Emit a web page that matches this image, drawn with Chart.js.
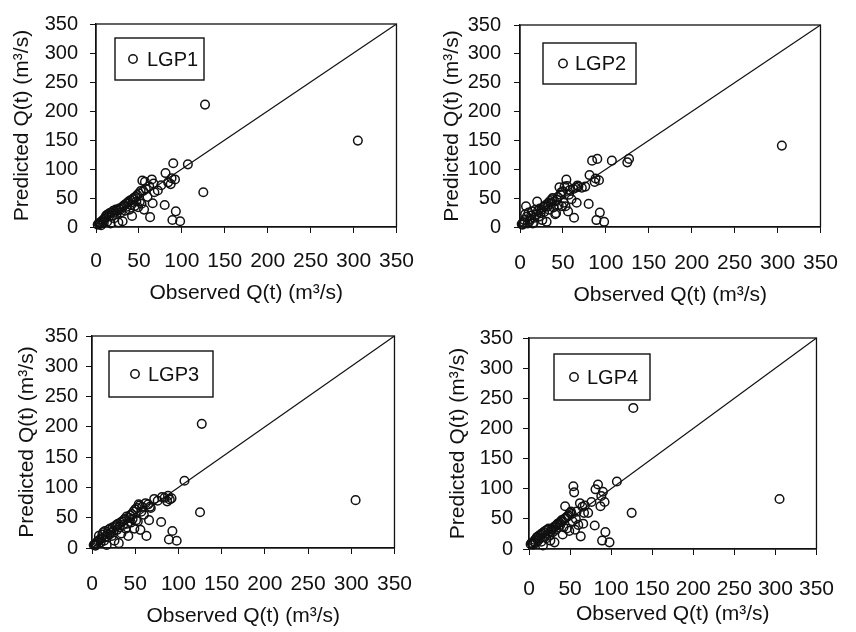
<!DOCTYPE html>
<html lang="en">
<head>
<meta charset="UTF-8">
<title>Observed vs predicted Q(t)</title>
<script src="https://cdn.jsdelivr.net/npm/chart.js"></script>
<style>
  body { margin: 0; background: #fff; }
  #wrap { position: relative; width: 856px; height: 632px; }
  canvas { position: absolute; }
</style>
</head>
<body>
<div id="wrap">
  <canvas id="c1" width="430" height="316" style="left:0;top:0"></canvas>
  <canvas id="c2" width="426" height="316" style="left:430px;top:0"></canvas>
  <canvas id="c3" width="430" height="316" style="left:0;top:316px"></canvas>
  <canvas id="c4" width="426" height="316" style="left:430px;top:316px"></canvas>
</div>

<script>
// observed discharge, shared by all four models
const observed = [2, 3, 4, 5, 6, 7, 8, 9, 10, 11, 12, 13, 14, 15, 16, 17, 18, 19, 20, 21,
  22, 23, 24, 25, 26, 27, 28, 29, 30, 31, 32, 33, 34, 35, 36, 37, 38, 39, 40, 41,
  42, 43, 44, 45, 46, 47, 48, 49, 50, 51, 52, 53, 54, 55, 56, 57, 58, 60, 62, 63,
  65, 66, 67, 68, 72, 76, 80, 81, 84, 87, 88, 89, 90, 92, 93, 98, 107, 125, 127, 305];

const predictedLGP1 = [4, 6, 5, 8, 3, 10, 12, 7, 14, 17, 20, 9, 22, 18, 24, 6, 25, 20, 28, 15,
  26, 30, 22, 28, 8, 32, 30, 25, 34, 10, 36, 38, 28, 40, 35, 42, 44, 30, 46, 38,
  19, 48, 50, 36, 52, 44, 55, 34, 58, 44, 62, 40, 80, 62, 30, 78, 66, 52, 70, 17,
  82, 41, 75, 60, 63, 72, 38, 93, 77, 74, 84, 12, 110, 82, 27, 10, 108, 60, 211, 149];

const predictedLGP2 = [5, 4, 8, 12, 22, 36, 18, 6, 25, 10, 14, 20, 27, 6, 8, 16, 30, 22, 44, 28,
  18, 32, 24, 30, 12, 34, 26, 36, 38, 9, 35, 42, 30, 45, 40, 48, 50, 34, 44, 22,
  24, 47, 52, 38, 69, 56, 60, 36, 62, 42, 70, 36, 82, 71, 27, 56, 64, 48, 66, 16,
  68, 42, 72, 70, 68, 70, 40, 90, 115, 78, 84, 12, 118, 81, 25, 9, 115, 112, 118, 141];

const predictedLGP3 = [5, 6, 4, 7, 10, 12, 20, 14, 9, 16, 22, 26, 12, 28, 18, 5, 24, 30, 22, 32,
  26, 20, 34, 28, 12, 36, 38, 30, 40, 8, 34, 42, 24, 44, 38, 46, 48, 32, 52, 40,
  20, 50, 54, 42, 56, 48, 60, 32, 64, 46, 66, 44, 72, 70, 30, 60, 68, 55, 74, 20,
  72, 46, 68, 66, 81, 78, 43, 84, 83, 77, 86, 14, 80, 82, 28, 12, 111, 59, 205, 79];

const predictedLGP4 = [8, 10, 9, 7, 12, 15, 10, 18, 20, 14, 22, 17, 24, 12, 26, 6, 28, 20, 30, 18,
  32, 25, 34, 22, 14, 30, 33, 28, 36, 11, 38, 32, 40, 42, 36, 44, 40, 46, 48, 24,
  36, 50, 71, 52, 34, 54, 56, 30, 60, 62, 58, 46, 104, 94, 32, 50, 62, 40, 76, 21,
  70, 42, 60, 72, 60, 78, 39, 99, 107, 71, 88, 14, 95, 78, 28, 11, 112, 60, 234, 83];

const seriesNames = ['LGP1', 'LGP2', 'LGP3', 'LGP4'];
const seriesValues = [predictedLGP1, predictedLGP2, predictedLGP3, predictedLGP4];
const axisMin = 0;
const axisMax = 350;
const tickStep = 50;
const diagonal = [0, 350];   // 1:1 line

const xTitle = 'Observed Q(t) (m\u00b3/s)';
const yTitle = 'Predicted Q(t) (m\u00b3/s)';

const ink = '#111';
const sans = '"Liberation Sans", Arial, sans-serif';
const titleSize = 21;

// per-panel placement (pixels inside each canvas)
const layouts = [
  { yWidth: 96, padRight: 32, padTop: 17, xHeight: 89, xTitleOff: 23, yTitleOff: 22, xTickPad: 16, yTickPad: 12,
    legend: { x: 19, y: 14, w: 89, h: 42, mx: 18, tx: 32 } },
  { yWidth: 90, padRight: 27, padTop: 14, xHeight: 89, xTitleOff: 21, yTitleOff: 22, xTickPad: 18, yTickPad: 13,
    legend: { x: 23, y: 18, w: 93, h: 41, mx: 20, tx: 32 } },
  { yWidth: 92, padRight: 28, padTop: 17, xHeight: 84, xTitleOff: 16, yTitleOff: 27, xTickPad: 18, yTickPad: 8,
    legend: { x: 17, y: 15, w: 104, h: 46, mx: 26, tx: 39 } },
  { yWidth: 99, padRight: 19, padTop: 16, xHeight: 83, xTitleOff: 18, yTitleOff: 28, xTickPad: 22, yTickPad: 10,
    legend: { x: 25, y: 16, w: 96, h: 46, mx: 20, tx: 33 } }
];

// frame around plot area + boxed legend inside it
const framePlugin = {
  id: 'frame',
  afterDatasetsDraw(chart, args, opts) {
    const { ctx, chartArea: a } = chart;
    ctx.save();
    ctx.strokeStyle = ink;
    ctx.lineWidth = 1.3;
    ctx.strokeRect(a.left, a.top, a.right - a.left, a.bottom - a.top);

    const lg = opts.box;
    const bx = a.left + lg.x, by = a.top + lg.y;
    ctx.fillStyle = '#fff';
    ctx.fillRect(bx, by, lg.w, lg.h);
    ctx.lineWidth = 1.4;
    ctx.strokeRect(bx, by, lg.w, lg.h);

    ctx.beginPath();
    ctx.arc(bx + lg.mx, by + lg.h / 2, 4.2, 0, Math.PI * 2);
    ctx.lineWidth = 1.5;
    ctx.stroke();

    ctx.fillStyle = ink;
    ctx.font = '20px ' + sans;
    ctx.textBaseline = 'middle';
    ctx.fillText(opts.label, bx + lg.tx, by + lg.h / 2 + 1);
    ctx.restore();
  }
};

seriesNames.forEach((name, i) => {
  const L = layouts[i];
  const pts = observed.map((o, k) => ({ x: o, y: seriesValues[i][k] }));
  const lh = titleSize * 1.2;

  new Chart(document.getElementById('c' + (i + 1)), {
    data: {
      datasets: [
        {
          type: 'line',
          label: '1:1',
          data: diagonal.map(v => ({ x: v, y: v })),
          borderColor: ink,
          borderWidth: 1.2,
          pointRadius: 0,
          fill: false
        },
        {
          type: 'scatter',
          label: name,
          data: pts,
          pointRadius: 4.3,
          pointBorderWidth: 1.5,
          borderColor: ink,
          backgroundColor: 'rgba(255,255,255,0)',
          clip: false
        }
      ]
    },
    options: {
      responsive: false,
      animation: false,
      layout: { padding: { left: 0, right: L.padRight, top: L.padTop, bottom: 0 } },
      plugins: {
        legend: { display: false },
        tooltip: { enabled: false },
        frame: { box: L.legend, label: name }
      },
      scales: {
        x: {
          type: 'linear',
          min: axisMin, max: axisMax,
          afterFit: s => { s.height = L.xHeight; },
          ticks: {
            stepSize: tickStep, color: ink, padding: L.xTickPad, maxRotation: 0,
            font: { family: sans, size: 21 }
          },
          grid: { drawOnChartArea: false, tickLength: 6, color: ink, lineWidth: 1 },
          border: { color: ink, width: 1.3 },
          title: {
            display: true, text: xTitle, color: ink,
            font: { family: sans, size: titleSize },
            padding: { top: 0, bottom: L.xTitleOff - lh / 2 }
          }
        },
        y: {
          type: 'linear',
          min: axisMin, max: axisMax,
          afterFit: s => { s.width = L.yWidth; },
          ticks: {
            stepSize: tickStep, color: ink, padding: L.yTickPad,
            font: { family: sans, size: 20 }
          },
          grid: { drawOnChartArea: false, tickLength: 6, color: ink, lineWidth: 1 },
          border: { color: ink, width: 1.3 },
          title: {
            display: true, text: yTitle, color: ink,
            font: { family: sans, size: titleSize },
            padding: { top: L.yTitleOff - lh / 2, bottom: 0 }
          }
        }
      }
    },
    plugins: [framePlugin]
  });
});
</script>
</body>
</html>
